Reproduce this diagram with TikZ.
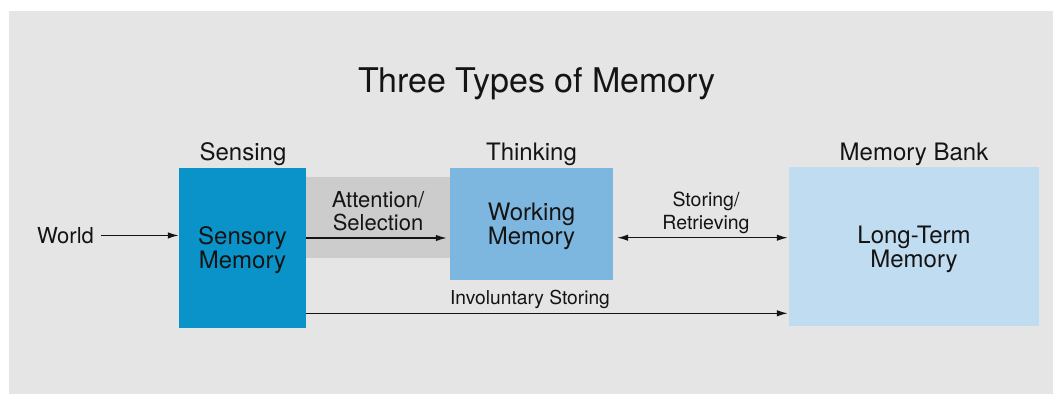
\documentclass[tikz,border=0pt]{standalone}
\usepackage{fontspec}
\setmainfont{TeX Gyre Heros}
\usetikzlibrary{arrows.meta}
\definecolor{bgray}{HTML}{E5E5E5}
\definecolor{band}{HTML}{CCCCCC}
\definecolor{sensblue}{HTML}{0A93C8}
\definecolor{workblue}{HTML}{7DB7DF}
\definecolor{longblue}{HTML}{BFDCF1}
\definecolor{ink}{HTML}{141414}
\tikzset{
  membox/.style={inner sep=0pt, align=center, text depth=0pt, text=ink, font=\fontsize{24}{24}\selectfont},
  head/.style={anchor=base, text=ink, font=\fontsize{24}{24}\selectfont},
  flow/.style={line width=1.4pt, draw=ink, -{Latex[length=11pt,width=6.5pt]}},
}
\begin{document}
\begin{tikzpicture}[x=1pt, y=-1pt]
\useasboundingbox (0,0) rectangle (1053,394);
\fill[white] (0,0) rectangle (1053,394);
\fill[bgray] (9,11) rectangle (1053,394);

\node[anchor=base, text=ink, font=\fontsize{34}{34}\selectfont] (title) at (537,92) {Three Types of Memory};

% the three stores
\fill[band] (306,177) rectangle (450,258);
\node[membox, fill=sensblue, minimum width=127pt, minimum height=160pt] (sensory) at (242.5,248) {Sensory\\Memory};
\node[membox, fill=workblue, minimum width=163pt, minimum height=112pt] (working) at (531.5,224) {Working\\Memory};
\node[membox, fill=longblue, minimum width=250pt, minimum height=159pt] (longterm) at (914,246.5) {Long-Term\\Memory};

\node[head] (sensing) at (243,160) {Sensing};
\node[head] (thinking) at (531.5,160) {Thinking};
\node[head] (bank) at (914,160) {Memory Bank};

\node[anchor=base, text=ink, font=\fontsize{22}{22}\selectfont] (world) at (65.5,243.3) {World};

% connectors
\coordinate (sel) at (0,238);
\coordinate (store) at (0,237.7);
\coordinate (invol) at (0,313.3);
\draw[flow, shorten <=4pt] (world.east) -- (sensory.west |- world.east);
\draw[flow, shorten >=3pt] (sensory.east |- sel) -- (working.west |- sel);
\draw[flow, {Latex[length=11pt,width=6.5pt]}-{Latex[length=11pt,width=6.5pt]}, shorten <=4pt, shorten >=1pt] (working.east |- store) -- (longterm.west |- store);
\draw[flow, shorten >=1pt] (sensory.east |- invol) -- (longterm.west |- invol);

\node[align=center, text=ink, font=\fontsize{22}{23}\selectfont] (attn) at (378,211) {Attention/\\Selection};
\node[align=center, text=ink, font=\fontsize{19.5}{22.6}\selectfont] (storing) at (706,213) {Storing/\\Retrieving};
\node[anchor=base, text=ink, font=\fontsize{19.2}{19.2}\selectfont] (invlab) at (530,304) {Involuntary Storing};
\end{tikzpicture}
\end{document}
